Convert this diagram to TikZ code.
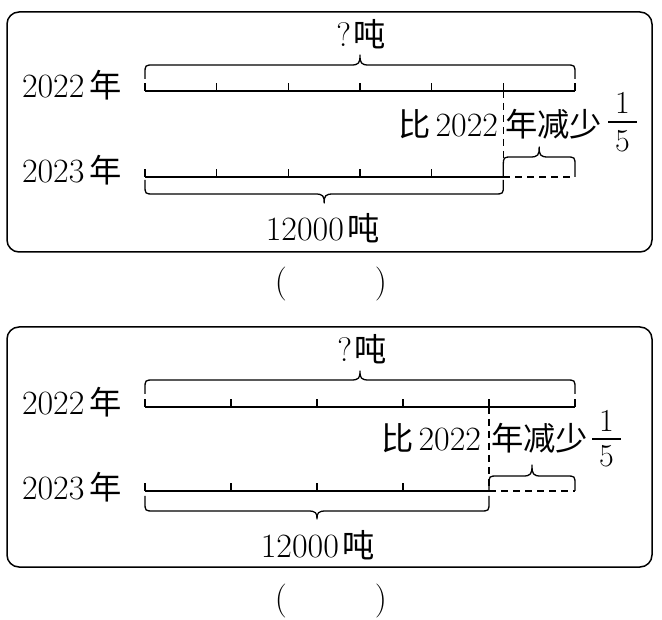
\documentclass[tikz,border=0pt]{standalone}
\usepackage{fontspec}
\newfontfamily\cjk{Noto Sans CJK SC}[Scale=0.95]
\newcommand\zh[1]{{\cjk #1}}
\newcommand\Brace[6]{%
 \draw[bracestyle] (#1,#3) -- (#1,{#4+9*(#6)}) .. controls (#1,#4) .. ({#1+9},#4)
   -- ({(#1+#2)/2-9},#4) .. controls ({(#1+#2)/2-1},#4) and ({(#1+#2)/2},{#4-2*(#6)}) .. ({(#1+#2)/2},#5)
   .. controls ({(#1+#2)/2},{#4-2*(#6)}) and ({(#1+#2)/2+1},#4) .. ({(#1+#2)/2+9},#4)
   -- ({#2-9},#4) .. controls (#2,#4) .. (#2,{#4+9*(#6)}) -- (#2,#3);}
\tikzset{
  bracestyle/.style={line width=1.3pt, line join=round},
  mainline/.style={line width=1.4pt},
  tickline/.style={line width=1.3pt},
  dashline/.style={line width=1.3pt, dash pattern=on 7pt off 5pt},
  panel/.style={line width=1.5pt, rounded corners=12pt},
  txt/.style={inner sep=0pt, outer sep=0pt, font=\fontsize{34}{40}\selectfont},
  fr/.style={inner sep=0pt, outer sep=0pt, font=\fontsize{32}{36}\selectfont}
}
\begin{document}
\begin{tikzpicture}[x=1pt, y=-1pt]
\useasboundingbox (0,0) rectangle (662,620);
% ---------- panel 1 ----------
\draw[panel] (7,12) rectangle (652,252);
\coordinate (a0) at (145,91);
\coordinate (a1) at (575,91);
\coordinate (b0) at (145,177);
\coordinate (bm) at (503.33,177);
\coordinate (am) at (503.33,91);
\coordinate (b1) at (575,177);
\draw[mainline] (a0) -- (a1);
\draw[mainline] (b0) -- (bm);
\draw[dashline] (bm) -- (b1);
\draw[dashline] (am) -- (bm);
\foreach \x in {145,216.67,288.33,360,431.67,503.33,575} \draw[tickline] (\x,91) -- (\x,83);
\foreach \x in {145,216.67,288.33,360,431.67} \draw[tickline] (\x,177) -- (\x,169);
\Brace{145}{575}{79}{65}{55}{1}
\Brace{503.33}{575}{177}{157}{147}{1}
\Brace{145}{503.33}{180}{194}{203}{-1}
\node[txt, anchor=base west] (y22a) at (22,98) {2022\hspace{5pt}\zh{年}};
\node[txt, anchor=base west] (y23a) at (22,183) {2023\hspace{5pt}\zh{年}};
\node[txt, anchor=base] (qa) at (361,47) {?\hspace{2pt}\zh{吨}};
\node[txt, anchor=base east] (la) at (498,137) {\zh{比}\hspace{5pt}2022};
\node[txt, anchor=base west] (ra) at (505,137) {\zh{年减少}};
\node[fr, anchor=base] (na) at (622.5,114) {1};
\node[fr, anchor=base] (da) at (622.5,152) {5};
\coordinate (fa0) at (608,122);
\coordinate (fa1) at (637,122);
\draw[line width=1.2pt] (fa0) -- (fa1);
\node[txt, anchor=base] (ta) at (323,241) {12000\hspace{4pt}\zh{吨}};
\node[txt, anchor=base] (pa) at (331,293) {(\hspace{88pt})};
% ---------- panel 2 ----------
\draw[panel] (7,327) rectangle (652,567);
\coordinate (c0) at (145,407);
\coordinate (c1) at (575,407);
\coordinate (cm) at (489,407);
\coordinate (d0) at (145,491);
\coordinate (dm) at (489,491);
\coordinate (d1) at (575,491);
\draw[mainline] (c0) -- (c1);
\draw[mainline] (d0) -- (dm);
\draw[dashline] (dm) -- (d1);
\draw[dashline] (cm) -- (dm);
\foreach \x in {145,231,317,403,489,575} \draw[tickline] (\x,407) -- (\x,399);
\foreach \x in {145,231,317,403} \draw[tickline] (\x,491) -- (\x,483);
\Brace{145}{575}{394}{380}{371}{1}
\Brace{489}{575}{491}{476}{465}{1}
\Brace{145}{489}{496}{511}{519}{-1}
\node[txt, anchor=base west] (y22b) at (22,415) {2022\hspace{5pt}\zh{年}};
\node[txt, anchor=base west] (y23b) at (22,500) {2023\hspace{5pt}\zh{年}};
\node[txt, anchor=base] (qb) at (362,362) {?\hspace{2pt}\zh{吨}};
\node[txt, anchor=base east] (lb) at (481,451) {\zh{比}\hspace{5pt}2022};
\node[txt, anchor=base west] (rb) at (491,451) {\zh{年减少}};
\node[fr, anchor=base] (nb) at (606.5,432) {1};
\node[fr, anchor=base] (db) at (606.5,467) {5};
\coordinate (fb0) at (592,439);
\coordinate (fb1) at (621,439);
\draw[line width=1.2pt] (fb0) -- (fb1);
\node[txt, anchor=base] (tb) at (318,558) {12000\hspace{4pt}\zh{吨}};
\node[txt, anchor=base] (pb) at (331,609) {(\hspace{88pt})};
\end{tikzpicture}
\end{document}
